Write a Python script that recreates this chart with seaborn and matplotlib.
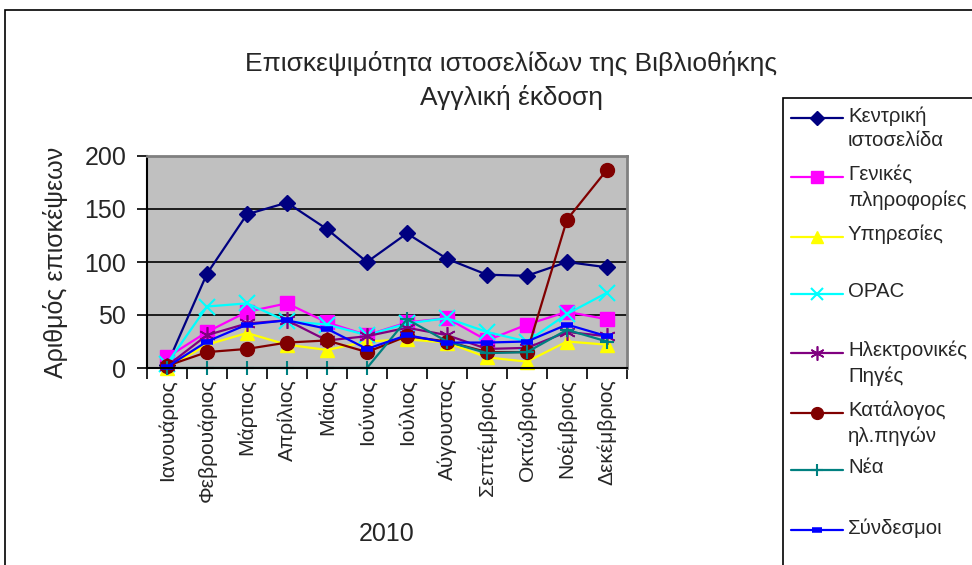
import matplotlib
matplotlib.use("Agg")
import matplotlib.pyplot as plt
from matplotlib.lines import Line2D
from matplotlib.patches import Rectangle
import seaborn as sns
import pandas as pd

months = ["Ιανουάριος", "Φεβρουάριος", "Μάρτιος", "Απρίλιος", "Μάιος", "Ιούνιος",
          "Ιούλιος", "Αύγουστος", "Σεπτέμβριος", "Οκτώβριος", "Νοέμβριος", "Δεκέμβριος"]

kentriki = [3, 89, 145, 156, 131, 100, 127, 103, 88, 87, 100, 95]
genikes = [10, 34, 53, 61, 43, 31, 43, 47, 26, 41, 53, 46]
ypiresies = [0, 22, 33, 22, 17, 25, 27, 24, 10, 6, 25, 22]
opac = [4, 58, 61, 44, 41, 31, 42, 47, 34, 25, 51, 71]
ilektronikes = [2, 31, 42, 45, 26, 30, 38, 31, 18, 19, 34, 30]
katalogos = [2, 15, 18, 24, 26, 15, 30, 25, 15, 15, 140, 187]
nea = [0, 0, 0, 0, 0, 0, 46, 25, 14, 15, 36, 25]
syndesmoi = [1, 25, 41, 45, 37, 18, 31, 24, 24, 25, 41, 30]

series_names = ["Κεντρική\nιστοσελίδα", "Γενικές\nπληροφορίες", "Υπηρεσίες", "OPAC",
                "Ηλεκτρονικές\nΠηγές", "Κατάλογος\nηλ.πηγών", "Νέα", "Σύνδεσμοι"]
series_values = [kentriki, genikes, ypiresies, opac, ilektronikes, katalogos, nea, syndesmoi]

title_text = "Επισκεψιμότητα ιστοσελίδων της Βιβλιοθήκης\nΑγγλική έκδοση"
ylabel_text = "Αριθμός επισκέψεων"
xlabel_text = "2010"

colors = ["#000080", "#FF00FF", "#FFFF00", "#00FFFF", "#800080", "#800000", "#008080", "#0000FF"]
markers = ["D", "s", "^", "x", (6, 2, 0), "o", "+", "_"]
msizes = [8, 10, 10, 11, 12, 10, 10, 8]
mews = [1, 1, 1, 1.5, 1.2, 1, 1.5, 4]

sns.set_theme(style="white")
plt.rcParams["font.family"] = ["Liberation Sans", "DejaVu Sans"]

fig = plt.figure(figsize=(9.72, 5.65), dpi=100)
W, H = 972, 565
ax = fig.add_axes([147 / W, 1 - 368 / H, (627 - 147) / W, (368 - 156) / H])
ax.set_facecolor("#C0C0C0")

for name, vals, c, m, ms, mew in zip(series_names, series_values, colors, markers, msizes, mews):
    df = pd.DataFrame({"month": months, "value": vals})
    sns.lineplot(data=df, x="month", y="value", ax=ax, color=c, marker=m,
                 markersize=ms, markeredgewidth=mew, markeredgecolor=c,
                 linewidth=1.6, sort=False, clip_on=False, legend=False)

ax.set_xlim(-0.5, len(months) - 0.5)
ax.set_ylim(0, 200)
ax.set_yticks([0, 50, 100, 150, 200])
ax.yaxis.grid(True, color="black", linewidth=1.2)
ax.set_axisbelow(True)

ax.set_xticks(range(len(months)))
ax.set_xticklabels(months, rotation=90, fontsize=15)
ax.set_xticks([i - 0.5 for i in range(len(months) + 1)], minor=True)
ax.tick_params(axis="x", which="major", length=0, pad=8)
ax.tick_params(axis="x", which="minor", length=8, width=1.2, color="black", direction="out", bottom=True)
ax.tick_params(axis="y", which="major", length=7, width=1.2, color="black", direction="out",
               left=True, labelsize=18, pad=8)

for s in ["left", "bottom"]:
    ax.spines[s].set_color("black")
    ax.spines[s].set_linewidth(1.5)
for s in ["top", "right"]:
    ax.spines[s].set_color("#808080")
    ax.spines[s].set_linewidth(2)

ax.set_xlabel(xlabel_text, fontsize=18, labelpad=14)
ax.set_ylabel(ylabel_text, fontsize=18, labelpad=12)

fig.text(511 / W, 1 - 81 / H, title_text, ha="center", va="center", fontsize=19, linespacing=1.45)

# outer chart border (top and left visible)
fig.add_artist(Rectangle((5 / W, -0.1), 1.2, 1 - 10 / H + 0.1, transform=fig.transFigure,
                         fill=False, edgecolor="black", linewidth=1.2))

# legend box
fig.add_artist(Rectangle((783 / W, -0.1), 1.2, 1 - 98 / H + 0.1, transform=fig.transFigure,
                         fill=True, facecolor="white", edgecolor="black", linewidth=1.2))
leg_y = [118, 177, 237, 294, 353, 413, 470, 530]
for name, c, m, ms, mew, yy in zip(series_names, colors, markers, msizes, mews, leg_y):
    yf = 1 - yy / H
    fig.add_artist(Line2D([791 / W, 843 / W], [yf, yf], transform=fig.transFigure,
                          color=c, linewidth=1.6))
    fig.add_artist(Line2D([817 / W], [yf], transform=fig.transFigure, color=c, marker=m,
                          markersize=ms * 0.85, markeredgewidth=mew, markeredgecolor=c,
                          linestyle="none"))
    fig.text(848 / W, yf + 12 / H, name, ha="left", va="top", fontsize=14.7, linespacing=1.4)

fig.savefig("out.png", dpi=100)
